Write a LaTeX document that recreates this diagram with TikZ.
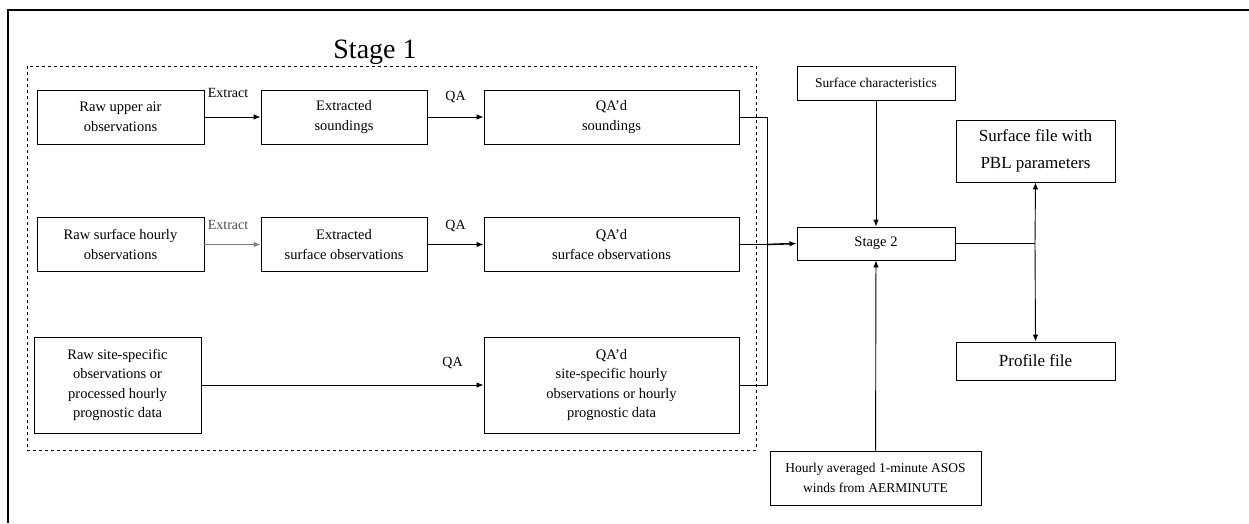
\documentclass[tikz,border=0pt]{standalone}
\usepackage{fontspec}
\setmainfont{Liberation Serif}
\usetikzlibrary{arrows.meta}

\begin{document}
\begin{tikzpicture}[x=1pt,y=-1pt,line width=0.9pt,
    procbox/.style={draw,align=center,inner sep=0pt,font=\fontsize{14.5}{19.5}\selectfont},
    bigbox/.style={procbox,font=\fontsize{17}{27}\selectfont},
    flow/.style={-{Latex[length=7pt,width=5.5pt]}},
    lbl/.style={font=\fontsize{14}{16}\selectfont,inner sep=0pt}]
        \useasboundingbox (0,0) rectangle (1249,523);
        \draw[line width=1.4pt] (8,523) -- (8,10) -- (1249,10);
        \draw[dashed,line width=0.7pt] (27,66) rectangle (756,450);
        \node[font=\fontsize{28}{32}\selectfont] (stageone) at (375,52) {Stage 1};
        % stage 1 boxes
        \node[procbox,minimum width=167pt,minimum height=54pt] (rawair)   at (120.5,117) {Raw upper air\\observations};
        \node[procbox,minimum width=166pt,minimum height=54pt] (extair)   at (344,117)   {Extracted\\soundings};
        \node[procbox,minimum width=255pt,minimum height=54pt] (qaair)    at (611.5,117) {QA’d\\soundings};
        \node[procbox,minimum width=167pt,minimum height=54pt] (rawsfc)   at (120.5,244.5) {Raw surface hourly\\observations};
        \node[procbox,minimum width=166pt,minimum height=54pt] (extsfc)   at (344,244.5)   {Extracted\\surface observations};
        \node[procbox,minimum width=255pt,minimum height=54pt] (qasfc)    at (611.5,244.5) {QA’d\\surface observations};
        \node[procbox,minimum width=167pt,minimum height=96pt] (rawsite)  at (117.5,385) {Raw site-specific\\observations or\\processed hourly\\prognostic data};
        \node[procbox,minimum width=255pt,minimum height=96pt] (qasite)   at (611.5,385) {QA’d\\site-specific hourly\\observations or hourly\\prognostic data};
        % stage 2 and outputs
        \node[procbox,minimum width=158pt,minimum height=34pt,font=\fontsize{13.5}{16}\selectfont] (sfcchar) at (876,83) {Surface characteristics};
        \node[procbox,minimum width=158pt,minimum height=33pt] (stagetwo) at (876,243.5) {Stage 2};
        \node[procbox,minimum width=211pt,minimum height=54pt,font=\fontsize{13.5}{20}\selectfont] (asos) at (875.5,478) {Hourly averaged 1-minute ASOS\\winds from AERMINUTE};
        \node[bigbox,minimum width=159pt,minimum height=62pt]  (pblfile)  at (1035.5,151) {Surface file with\\PBL parameters};
        \node[bigbox,minimum width=159pt,minimum height=38pt]  (proffile) at (1035.5,361) {Profile file};
        \coordinate (bus) at (767,244.5);
        \coordinate (split) at (1035,243.5);
        % connectors
        \draw[flow] (rawair) -- (extair) node[lbl,pos=0.42,above=19pt] {Extract};
        \draw[flow] (extair) -- (qaair) node[lbl,midway,above=14pt] {QA};
        \draw[flow,gray] (rawsfc) -- (extsfc) node[lbl,black!70,pos=0.42,above=14pt] {Extract};
        \draw[flow] (extsfc) -- (qasfc) node[lbl,midway,above=12pt] {QA};
        \draw[flow] (rawsite) -- (qasite) node[lbl,pos=0.89,above=16pt] {QA};
        \draw (qaair.east) -| (bus) |- (qasite.east);
        \draw (qasfc.east) -- (bus);
        \draw[flow,line width=1.6pt] (bus) -- (stagetwo.west);
        \draw[flow] (sfcchar) -- (stagetwo);
        \draw[flow] (asos) -- (stagetwo);
        \draw (stagetwo.east) -- (split);
        \draw[flow] (split) -- (pblfile.south);
        \draw[flow] (split) -- (proffile.north);
      \end{tikzpicture}
\end{document}
